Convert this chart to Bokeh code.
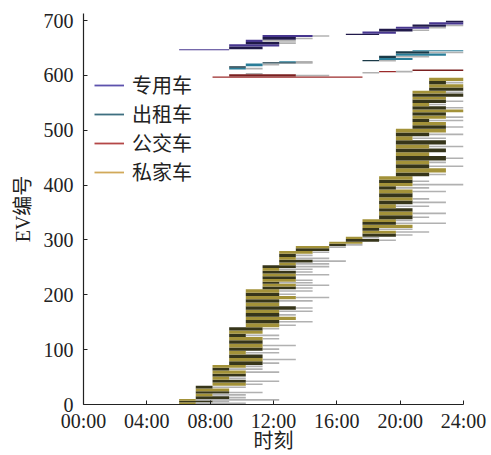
import numpy as np
from bokeh.plotting import figure
from bokeh.models import ColumnDataSource, FixedTicker, Legend, LegendItem, Range1d
from bokeh.embed import file_html
from bokeh.resources import INLINE

# time grid of arrival / leave steps (hours)
STEP_T = [6.04, 7.09, 8.15, 9.20, 10.25, 11.31, 12.36, 13.41, 14.47, 15.52,
          16.57, 17.62, 18.67, 19.73, 20.78, 21.83, 22.89, 24.0]

X_TICKS = [0, 4, 8, 12, 16, 20, 24]
X_LABELS = ["00:00", "04:00", "08:00", "12:00", "16:00", "20:00", "24:00"]
Y_TICKS = [0, 100, 200, 300, 400, 500, 600, 700]
X_TITLE = "时刻"
Y_TITLE = "EV编号"

TYPE_NAMES = ["专用车", "出租车", "公交车", "私家车"]

# ---- private cars (私家车): groups of EVs: count, arrival step, charge-end step, leave step
PRIV_N = [4, 3, 3,
          5, 5, 4, 5, 5,
          6, 5, 6, 5, 6, 5, 5,
          7, 6, 6, 7, 6, 7, 6, 6, 6, 6, 6,
          7, 6, 6, 7, 6, 6, 7, 6, 6, 6, 6,
          5, 5, 4, 5, 5, 5, 5, 5, 5,
          5, 5, 5, 6, 5,
          5, 4,
          4, 4,
          5, 4,
          6, 5, 5, 6, 5, 5,
          7, 7, 6, 7, 7, 6, 7, 7, 6, 6, 6, 6,
          7, 8, 7, 7, 8, 7, 7, 7, 8, 7, 7, 7,
          6, 6, 6, 6, 6, 5, 6, 6, 6, 5, 6, 5,
          6, 6, 6, 6]
PRIV_A = [0, 0, 0,
          1, 1, 1, 1, 1,
          2, 2, 2, 2, 2, 2, 2,
          3, 3, 3, 3, 3, 3, 3, 3, 3, 3, 3,
          4, 4, 4, 4, 4, 4, 4, 4, 4, 4, 4,
          5, 5, 5, 5, 5, 5, 5, 5, 5,
          6, 6, 6, 6, 6,
          7, 7,
          9, 9,
          10, 10,
          11, 11, 11, 11, 11, 11,
          12, 12, 12, 12, 12, 12, 12, 12, 12, 12, 12, 12,
          13, 13, 13, 13, 13, 13, 13, 13, 13, 13, 13, 13,
          14, 14, 14, 14, 14, 14, 14, 14, 14, 14, 14, 14,
          15, 15, 15, 15]
PRIV_C = [1, 2, 1,
          3, 2, 3, 3, 2,
          4, 4, 3, 4, 4, 3, 4,
          5, 5, 5, 4, 5, 5, 5, 5, 4, 5, 5,
          6, 6, 7, 6, 6, 7, 6, 6, 7, 6, 6,
          7, 7, 6, 7, 7, 7, 7, 6, 7,
          7, 8, 7, 7, 8,
          9, 9,
          10, 11,
          12, 11,
          13, 13, 12, 14, 13, 13,
          14, 14, 14, 13, 14, 14, 14, 14, 13, 14, 14, 14,
          15, 16, 15, 15, 16, 15, 16, 15, 16, 14, 15, 16,
          16, 16, 15, 16, 16, 17, 16, 15, 16, 16, 17, 16,
          17, 17, 16, 17]
PRIV_L = [4, 3, 6,
          4, 4, 5, 3, 4,
          5, 6, 4, 4, 6, 5, 5,
          6, 7, 5, 6, 6, 7, 5, 6, 6, 5, 6,
          7, 8, 7, 7, 8, 8, 6, 8, 9, 7, 8,
          8, 9, 8, 8, 7, 9, 8, 8, 9,
          9, 10, 9, 8, 9,
          9, 10,
          11, 11,
          13, 12,
          14, 15, 14, 14, 16, 14,
          15, 16, 14, 15, 16, 15, 14, 16, 15, 17, 15, 14,
          16, 16, 17, 16, 17, 15, 16, 17, 16, 16, 17, 16,
          17, 16, 17, 17, 16, 17, 17, 16, 17, 16, 17, 17,
          17, 17, 17, 17]

# ---- buses (公交车)
BUS_N = [2, 4, 2, 2, 2, 3]
BUS_A = [2, 3, 4, 11, 12, 14]
BUS_C = [11, 7, 4, 11, 13, 17]
BUS_L = [11, 9, 5, 12, 14, 17]

# ---- taxis (出租车)
TAXI_N = [3, 3, 5, 2, 2, 2, 4, 4, 4, 4, 2]
TAXI_A = [3, 3, 4, 5, 6, 11, 12, 12, 13, 13, 14]
TAXI_C = [4, 4, 5, 7, 7, 12, 14, 13, 16, 15, 17]
TAXI_L = [5, 4, 6, 8, 8, 13, 14, 15, 16, 17, 17]

# ---- dedicated vehicles (专用车)
DED_N = [2, 5, 4, 4, 4, 5, 4, 2, 4, 5, 4, 4, 4, 3]
DED_A = [0, 3, 3, 4, 4, 5, 5, 10, 11, 12, 13, 14, 15, 16]
DED_C = [3, 5, 6, 6, 5, 7, 8, 12, 13, 14, 15, 16, 17, 17]
DED_L = [3, 5, 6, 7, 7, 8, 9, 12, 13, 15, 16, 17, 17, 17]

PALETTE = {
    "私家车": ("#a39239", "#36351a"),
    "公交车": ("#9b2b2b", "#7a2020"),
    "出租车": ("#2a7e99", "#1b3a47"),
    "专用车": ("#47368f", "#211a4a"),
}
LEGEND_COLORS = {"专用车": "#5d52ad", "出租车": "#3e6f80", "公交车": "#b44747", "私家车": "#d1a95a"}

T = np.array(STEP_T)

p = figure(width=491, height=455, x_range=Range1d(0, 24), y_range=Range1d(0, 713),
           output_backend="svg", toolbar_location=None,
           min_border_left=83, min_border_right=28, min_border_top=13, min_border_bottom=51)
p.outline_line_color = None
p.grid.visible = False
p.background_fill_color = "white"
p.border_fill_color = "white"

groups = [("私家车", PRIV_N, PRIV_A, PRIV_C, PRIV_L),
          ("公交车", BUS_N, BUS_A, BUS_C, BUS_L),
          ("出租车", TAXI_N, TAXI_A, TAXI_C, TAXI_L),
          ("专用车", DED_N, DED_A, DED_C, DED_L)]

first = 0
for name, n, a, c, l in groups:
    n = np.array(n, dtype=float)
    ids0 = first + np.concatenate([[0.0], np.cumsum(n)[:-1]])
    first += n.sum()
    ta, tc, tl = T[np.array(a)], T[np.array(c)], T[np.array(l)]
    light, dark = PALETTE[name]
    cols = [light if i % 2 == 0 else dark for i in range(len(n))]
    m = tl > tc
    park = ColumnDataSource(dict(x0=tc[m], x1=tl[m], y=(ids0 + n / 2)[m]))
    p.segment(x0="x0", y0="y", x1="x1", y1="y", source=park,
              line_color="#a8a8a8", line_width=1.6, line_alpha=0.9)
    m2 = tc > ta
    chg = ColumnDataSource(dict(left=ta[m2], right=tc[m2], bottom=ids0[m2],
                                top=(ids0 + n)[m2], color=[cc for cc, k in zip(cols, m2) if k]))
    p.quad(left="left", right="right", bottom="bottom", top="top", source=chg,
           fill_color="color", line_color=None)

# legend keys: tiny off-screen line renderers so the legend can show line glyphs
items = []
for name in TYPE_NAMES:
    r = p.line(x=[-5, -4], y=[-50, -50], line_color=LEGEND_COLORS[name], line_width=1.8)
    items.append(LegendItem(label=name, renderers=[r]))

FONT = "Liberation Serif, Noto Sans CJK SC"
legend = Legend(items=items, location=(11, 218), padding=0, margin=0, spacing=0,
                glyph_width=30, glyph_height=20, label_height=20, label_standoff=8,
                label_text_font_size="20px", label_text_font=FONT,
                label_text_color="#222222",
                border_line_color=None, background_fill_alpha=0)
p.add_layout(legend)

for ax in (p.xaxis[0], p.yaxis[0]):
    ax.axis_line_color = "#222222"
    ax.axis_line_width = 1.2
    ax.major_tick_line_color = "#222222"
    ax.major_tick_in = 4
    ax.major_tick_out = 0
    ax.minor_tick_line_color = None
    ax.major_label_text_font = FONT
    ax.major_label_text_font_size = "20px"
    ax.major_label_text_color = "#222222"
    ax.axis_label_text_font = FONT
    ax.axis_label_text_font_size = "20px"
    ax.axis_label_text_font_style = "normal"
    ax.axis_label_text_color = "#222222"

p.xaxis.ticker = FixedTicker(ticks=X_TICKS)
p.xaxis.major_label_overrides = {t: s for t, s in zip(X_TICKS, X_LABELS)}
p.xaxis.axis_label = X_TITLE
p.xaxis.major_label_standoff = 5
p.xaxis.axis_label_standoff = -5
p.yaxis.ticker = FixedTicker(ticks=Y_TICKS)
p.yaxis.axis_label = Y_TITLE
p.yaxis.major_label_standoff = 10
p.yaxis.axis_label_standoff = 7

open("out.html", "w").write(file_html(p, INLINE))
